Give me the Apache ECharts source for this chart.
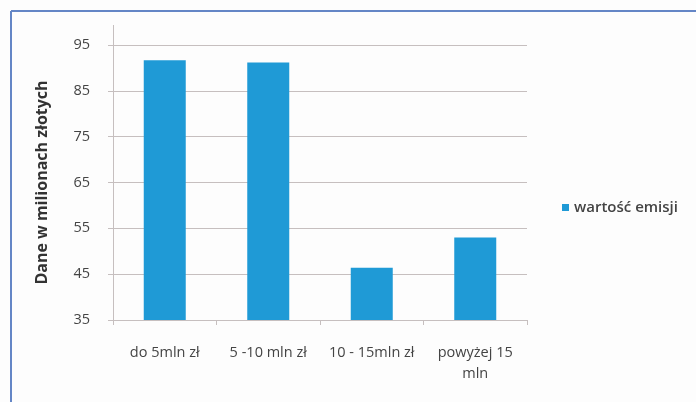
<!DOCTYPE html>
<html><head><meta charset="utf-8">
<script src="https://cdn.jsdelivr.net/npm/echarts@6/dist/echarts.min.js"></script>
<style>html,body{margin:0;padding:0;background:#fdfdfd}#c{width:696px;height:402px}</style>
</head><body><div id="c"></div>
<script>
const categories = ['do 5mln zł', '5 -10 mln zł', '10 - 15mln zł', 'powyżej 15\nmln'];
const values = [91.7, 91.2, 46.4, 53.0];
const seriesName = 'wartość emisji';
const yTitle = 'Dane w milionach złotych';

const font = 'Open Sans';
const chart = echarts.init(document.getElementById('c'));
chart.setOption({
  backgroundColor: '#fdfdfd',
  animation: false,
  graphic: [
    {type: 'line', shape: {x1: 11, y1: 11, x2: 696, y2: 11}, style: {stroke: '#6486c6', lineWidth: 2}},
    {type: 'line', shape: {x1: 11, y1: 11, x2: 11, y2: 402}, style: {stroke: '#6486c6', lineWidth: 2}},
    {type: 'line', shape: {x1: 113.5, y1: 25, x2: 113.5, y2: 45}, style: {stroke: '#c6bfbf', lineWidth: 1}}
  ],
  legend: {
    data: [seriesName], left: 557, top: 195, icon: 'rect', itemWidth: 7, itemHeight: 7, itemGap: 4,
    textStyle: {fontFamily: font, fontSize: 15, color: '#444', fontWeight: 600}
  },
  grid: {left: 113, right: 169, top: 45, bottom: 82, containLabel: false},
  xAxis: {
    type: 'category', data: categories,
    axisLine: {lineStyle: {color: '#c6bfbf'}},
    axisTick: {show: true, length: 5, lineStyle: {color: '#c6bfbf'}},
    axisLabel: {fontFamily: font, fontSize: 14.5, color: '#444', margin: 22, lineHeight: 21, interval: 0}
  },
  yAxis: {
    type: 'value', min: 35, max: 95, interval: 10,
    name: yTitle, nameLocation: 'middle', nameRotate: 90, nameGap: 63,
    nameTextStyle: {fontFamily: font, fontSize: 16, fontWeight: 'bold', color: '#333'},
    axisLine: {show: true, lineStyle: {color: '#c6bfbf'}},
    axisTick: {show: true, length: 5, lineStyle: {color: '#c6bfbf'}},
    splitLine: {lineStyle: {color: '#c6bfbf'}},
    axisLabel: {fontFamily: font, fontSize: 14.5, color: '#444', margin: 23}
  },
  series: [{
    name: seriesName, type: 'bar', data: values, barWidth: 42,
    itemStyle: {color: '#1f9ad6'}
  }]
});
</script></body></html>
